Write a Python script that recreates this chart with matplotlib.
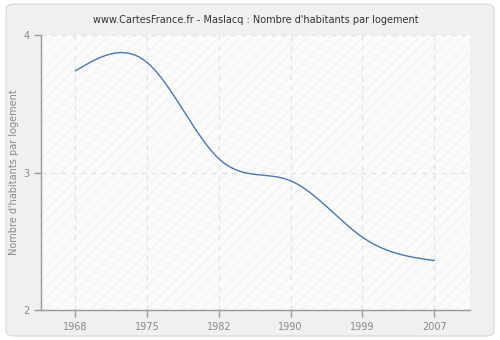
import numpy as np
import matplotlib
matplotlib.use("Agg")
import matplotlib.pyplot as plt
from matplotlib.patches import FancyBboxPatch

years = ["1968", "1975", "1982", "1990", "1999", "2007"]
values = [3.74, 3.80, 3.10, 2.94, 2.53, 2.36]
yticks = [2, 3, 4]
title = "www.CartesFrance.fr - Maslacq : Nombre d'habitants par logement"
ylabel = "Nombre d'habitants par logement"


def natural_spline(x, y, n=300):
    x = np.asarray(x, float)
    y = np.asarray(y, float)
    k = len(x)
    h = np.diff(x)
    A = np.zeros((k, k))
    b = np.zeros(k)
    A[0, 0] = 1
    A[-1, -1] = 1
    for i in range(1, k - 1):
        A[i, i - 1] = h[i - 1]
        A[i, i] = 2 * (h[i - 1] + h[i])
        A[i, i + 1] = h[i]
        b[i] = 3 * ((y[i + 1] - y[i]) / h[i] - (y[i] - y[i - 1]) / h[i - 1])
    c = np.linalg.solve(A, b)
    xs = np.linspace(x[0], x[-1], n)
    ys = np.empty_like(xs)
    for j, xv in enumerate(xs):
        i = min(np.searchsorted(x, xv, side="right") - 1, k - 2)
        dx = xv - x[i]
        bi = (y[i + 1] - y[i]) / h[i] - h[i] * (2 * c[i] + c[i + 1]) / 3
        di = (c[i + 1] - c[i]) / (3 * h[i])
        ys[j] = y[i] + bi * dx + c[i] * dx ** 2 + di * dx ** 3
    return xs, ys


fig = plt.figure(figsize=(5, 3.4), dpi=100)
fig.patch.set_facecolor("white")
bg = FancyBboxPatch((0.012, 0.012), 0.976, 0.976, boxstyle="round,pad=0,rounding_size=0.015",
                    transform=fig.transFigure, facecolor="#f0f0f0", edgecolor="#dddddd",
                    linewidth=1, zorder=-10)
fig.patches.append(bg)

ax = fig.add_axes([0.082, 0.088, 0.858, 0.809])
ax.set_facecolor("#fbfbfb")
plt.rcParams["hatch.linewidth"] = 0.6
ax.add_patch(plt.Rectangle((0, 0), 1, 1, transform=ax.transAxes, facecolor="none",
                           edgecolor="#efefef", hatch="///", linewidth=0, zorder=0))

x = np.arange(len(years))
xs, ys = natural_spline(x, values)
ax.plot(xs, ys, color="#4a78b0", linewidth=1.0, zorder=3)

ax.set_xlim(-0.48, 5.5)
ax.set_ylim(2, 4)
ax.set_xticks(x)
ax.set_xticklabels(years)
ax.set_yticks(yticks)
ax.set_yticklabels([str(t) for t in yticks])

for s in ["top", "right"]:
    ax.spines[s].set_visible(False)
for s in ["left", "bottom"]:
    ax.spines[s].set_color("#999999")
    ax.spines[s].set_linewidth(1)

ax.tick_params(axis="both", colors="#999999", labelcolor="#888888", labelsize=7, length=5, width=1)
ax.grid(True, color="#e2e2e2", linestyle=(0, (4, 4)), linewidth=0.9)
ax.set_axisbelow(True)

ax.set_title(title, fontsize=7.0, color="#333333", pad=9)
ax.set_ylabel(ylabel, fontsize=7, color="#888888", labelpad=3)

fig.savefig("out.png", dpi=100, facecolor=fig.get_facecolor())
